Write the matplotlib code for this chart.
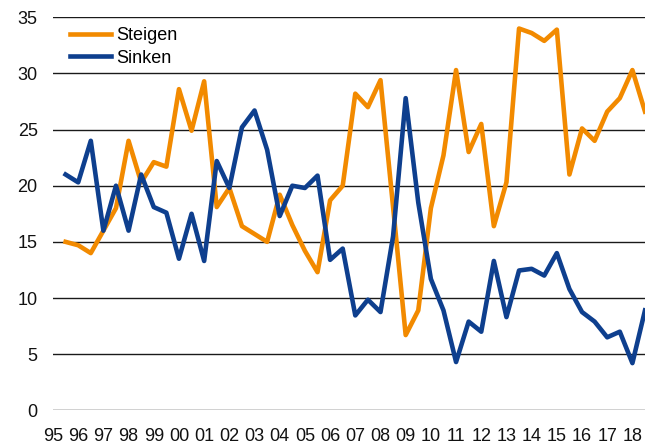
import matplotlib
matplotlib.use("Agg")
import matplotlib.pyplot as plt
import numpy as np

plt.rcParams['font.family'] = ['Liberation Sans', 'DejaVu Sans']

year_labels = ['95', '96', '97', '98', '99', '00', '01', '02', '03', '04', '05', '06',
               '07', '08', '09', '10', '11', '12', '13', '14', '15', '16', '17', '18']

steigen = [15.0, 14.7, 14.0, 16.0, 18.0, 24.0, 20.3, 22.1, 21.7, 28.6,
           24.9, 29.3, 18.1, 19.8, 16.4, 15.7, 15.0, 19.2, 16.5, 14.2,
           12.3, 18.7, 20.0, 28.2, 27.0, 29.4, 18.1, 6.7, 8.9, 18.0,
           22.7, 30.3, 23.0, 25.5, 16.4, 20.3, 34.0, 33.6, 32.9, 33.9,
           21.0, 25.1, 24.0, 26.6, 27.8, 30.3, 26.6]

sinken = [21.0, 20.3, 24.0, 16.0, 20.0, 16.0, 21.0, 18.1, 17.6, 13.5,
          17.5, 13.3, 22.2, 19.8, 25.2, 26.7, 23.2, 17.3, 20.0, 19.8,
          20.9, 13.4, 14.4, 8.45, 9.85, 8.75, 15.5, 27.8, 18.5, 11.7,
          8.9, 4.3, 7.9, 7.0, 13.3, 8.3, 12.45, 12.6, 12.0, 14.0,
          10.8, 8.75, 7.9, 6.5, 7.0, 4.2, 8.9]

x = np.arange(1, len(steigen) + 1)
tick_pos = np.arange(0, 2 * len(year_labels), 2)

fig = plt.figure(figsize=(6.51, 4.44), dpi=100)
ax = fig.add_axes([53/651, 1 - 410.3/444, (645 - 53)/651, (410.3 - 17.3)/444])

orange = '#F28A00'
blue = '#0E3F8E'

ax.plot(x, steigen, color=orange, lw=3.3, label='Steigen', solid_joinstyle='round', zorder=3)
ax.plot(x, sinken, color=blue, lw=3.3, label='Sinken', solid_joinstyle='round', zorder=3)

ax.set_xlim(0, 47)
ax.set_ylim(0, 35)
ax.set_yticks(np.arange(0, 36, 5))
ax.set_xticks(tick_pos)
ax.set_xticklabels(year_labels)

ax.yaxis.grid(True, color='#1a1a1a', lw=1.0)
ax.set_axisbelow(True)
for s in ax.spines.values():
    s.set_visible(False)
ax.tick_params(axis='both', length=0, labelsize=13, colors='#111111')
ax.tick_params(axis='y', pad=11)
ax.tick_params(axis='x', pad=13)

leg = ax.legend(loc='upper left', bbox_to_anchor=(0.016, 0.993), frameon=False,
                fontsize=13, handlelength=2.3, handletextpad=0.3, labelspacing=0.3,
                borderaxespad=0.0)

fig.savefig('out.png', dpi=100)
